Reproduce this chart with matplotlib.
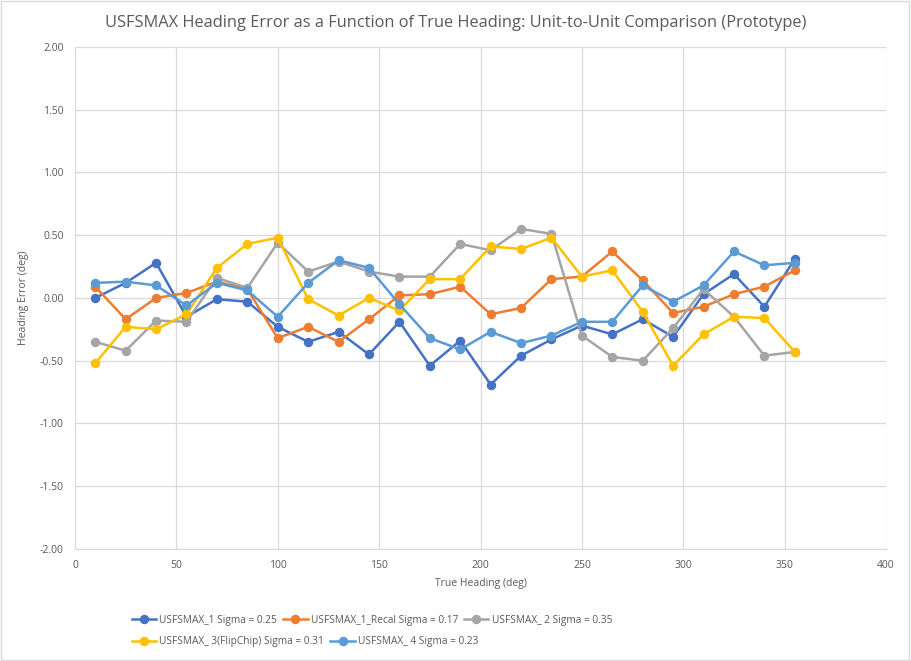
import matplotlib
matplotlib.use("Agg")
import matplotlib.pyplot as plt
from matplotlib.patches import Rectangle

heading = [10, 25, 40, 55, 70, 85, 100, 115, 130, 145, 160, 175, 190, 205, 220, 235, 250, 265, 280, 295, 310, 325, 340, 355]

usfsmax_1 = [0.00, 0.12, 0.28, -0.15, -0.01, -0.03, -0.23, -0.35, -0.27, -0.45, -0.19, -0.54,
             -0.34, -0.69, -0.46, -0.33, -0.22, -0.29, -0.17, -0.31, 0.03, 0.19, -0.07, 0.31]
usfsmax_1_recal = [0.09, -0.17, 0.00, 0.04, 0.13, 0.07, -0.32, -0.23, -0.35, -0.17, 0.02, 0.03,
                   0.09, -0.13, -0.08, 0.15, 0.17, 0.37, 0.14, -0.12, -0.07, 0.03, 0.09, 0.22]
usfsmax_2 = [-0.35, -0.42, -0.18, -0.19, 0.16, 0.08, 0.44, 0.21, 0.29, 0.21, 0.17, 0.17,
             0.43, 0.38, 0.55, 0.51, -0.30, -0.47, -0.50, -0.24, 0.07, -0.15, -0.46, -0.43]
usfsmax_3 = [-0.52, -0.23, -0.25, -0.13, 0.24, 0.43, 0.48, -0.01, -0.14, 0.00, -0.10, 0.15,
             0.15, 0.41, 0.39, 0.48, 0.17, 0.22, -0.11, -0.54, -0.29, -0.15, -0.16, -0.43]
usfsmax_4 = [0.12, 0.13, 0.10, -0.06, 0.12, 0.06, -0.15, 0.12, 0.30, 0.24, -0.05, -0.32,
             -0.41, -0.27, -0.36, -0.30, -0.19, -0.19, 0.10, -0.03, 0.10, 0.37, 0.26, 0.28]

labels = ["USFSMAX_1 Sigma = 0.25", "USFSMAX_1_Recal Sigma = 0.17", "USFSMAX_ 2 Sigma = 0.35",
          "USFSMAX_ 3(FlipChip) Sigma = 0.31", "USFSMAX_ 4 Sigma = 0.23"]
colors = ["#4472C4", "#ED7D31", "#A5A5A5", "#FFC000", "#5B9BD5"]
series = [usfsmax_1, usfsmax_1_recal, usfsmax_2, usfsmax_3, usfsmax_4]

xticks = [0, 50, 100, 150, 200, 250, 300, 350, 400]
yticks = [-2.0, -1.5, -1.0, -0.5, 0.0, 0.5, 1.0, 1.5, 2.0]

plt.rcParams['font.family'] = ['Open Sans', 'DejaVu Sans']

fig = plt.figure(figsize=(9.11, 6.61), dpi=100)
fig.patches.append(Rectangle((0.001, 0.001), 0.997, 0.997, transform=fig.transFigure,
                             fill=False, edgecolor="#D9D9D9", linewidth=1))
ax = fig.add_axes([0.0823, 0.1694, 0.8903, 0.7597])

handles = []
for s, c, l in zip(series, colors, labels):
    h, = ax.plot(heading, s, color=c, lw=1.8, marker='o', markersize=5.8, label=l)
    handles.append(h)

ax.set_xlim(0, 400)
ax.set_ylim(-2, 2)
ax.set_xticks(xticks)
ax.set_yticks(yticks)
ax.set_yticklabels([f"{v:.2f}" for v in yticks])
ax.grid(True, color="#D9D9D9", linewidth=0.9)
ax.set_axisbelow(True)
for sp in ["top", "right", "left"]:
    ax.spines[sp].set_visible(False)
ax.spines["bottom"].set_color("#D9D9D9")
ax.tick_params(length=0, labelsize=7.5, colors="#595959", pad=8)
ax.set_xlabel("True Heading (deg)", fontsize=7.5, color="#595959", labelpad=5)
ax.set_ylabel("Heading Error (deg)", fontsize=7.5, color="#595959", labelpad=8)

fig.text(0.5, 0.965, "USFSMAX Heading Error as a Function of True Heading: Unit-to-Unit Comparison (Prototype)",
         ha="center", va="center", fontsize=11.8, color="#595959")

legkw = dict(frameon=False, fontsize=7.3, handlelength=2.4, columnspacing=0.6,
             handletextpad=0.3, borderaxespad=0, borderpad=0, loc="center left")
leg1 = fig.legend(handles[:3], labels[:3], ncol=3, bbox_to_anchor=(0.145, 0.062), **legkw)
leg2 = fig.legend(handles[3:], labels[3:], ncol=2, bbox_to_anchor=(0.145, 0.029), **legkw)
for leg in (leg1, leg2):
    for t in leg.get_texts():
        t.set_color("#595959")

fig.savefig("out.png", dpi=100)
